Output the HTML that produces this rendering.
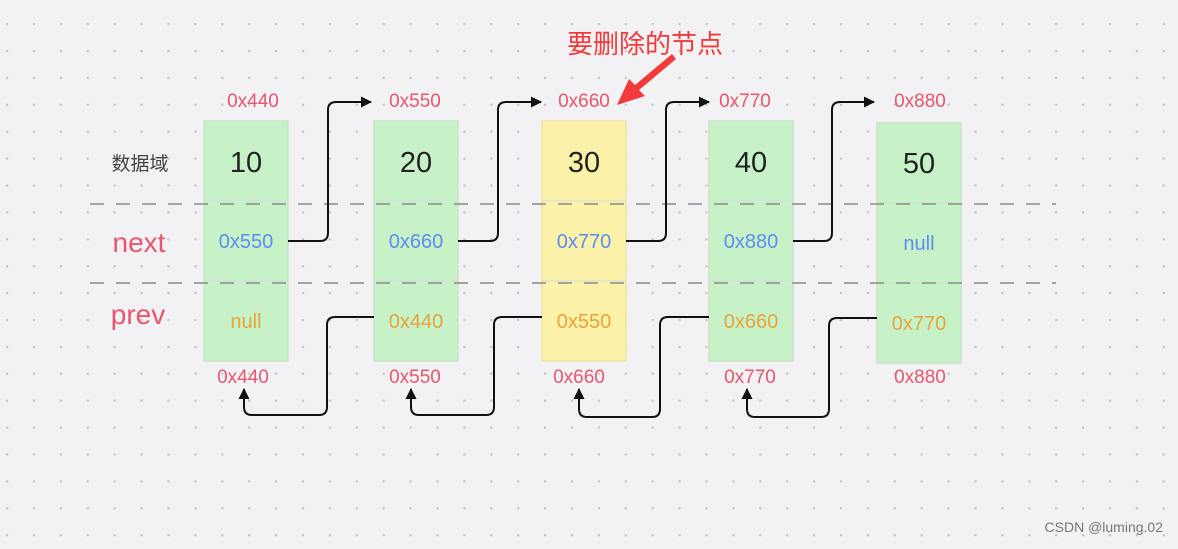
<!DOCTYPE html>
<html><head><meta charset="utf-8"><style>
body{margin:0;width:1178px;height:544px;overflow:hidden;background:#f2f2f4;}
</style></head><body>
<svg width="1178" height="544" xmlns="http://www.w3.org/2000/svg" font-family="Liberation Sans, Noto Sans CJK SC, sans-serif">
<defs>
<pattern id="d" x="6" y="23" width="26.9" height="26.9" patternUnits="userSpaceOnUse"><rect x="0" y="0" width="2.2" height="2.2" fill="#c4c4cc"/></pattern>
<marker id="a" markerWidth="11" markerHeight="11" refX="10" refY="5.5" orient="auto" markerUnits="userSpaceOnUse"><path d="M0,0 L11,5.5 L0,11 z" fill="#111"/></marker>
</defs>
<rect width="1178" height="544" fill="url(#d)"/>
<g stroke="#c8e4c8" stroke-width="1.5">
<rect x="204" y="121" width="84" height="240" fill="#c7f2c8"/>
<rect x="374" y="121" width="84" height="240" fill="#c7f2c8"/>
<rect x="542" y="121" width="84" height="240" fill="#fbf1a8" stroke="#ece4a8"/>
<rect x="709" y="121" width="84" height="240" fill="#c7f2c8"/>
<rect x="877" y="123" width="84" height="240" fill="#c7f2c8"/>
</g>
<g stroke="#d6dcd6" stroke-width="1">
<line x1="204" y1="201" x2="288" y2="201"/><line x1="204" y1="281" x2="288" y2="281"/>
<line x1="374" y1="201" x2="458" y2="201"/><line x1="374" y1="281" x2="458" y2="281"/>
<line x1="542" y1="201" x2="626" y2="201"/><line x1="542" y1="281" x2="626" y2="281"/>
<line x1="709" y1="201" x2="793" y2="201"/><line x1="709" y1="281" x2="793" y2="281"/>
<line x1="877" y1="203" x2="961" y2="203"/><line x1="877" y1="283" x2="961" y2="283"/>
</g>
<g stroke="#8a8a8a" stroke-width="1.5" stroke-dasharray="14,12">
<line x1="90" y1="204" x2="1056" y2="204"/>
<line x1="90" y1="283" x2="1056" y2="283"/>
</g>
<g fill="none" stroke="#111" stroke-width="2">
<path d="M288,241 H320 Q328,241 328,233 V110 Q328,102 336,102 H371" marker-end="url(#a)"/>
<path d="M458,241 H490 Q498,241 498,233 V110 Q498,102 506,102 H541" marker-end="url(#a)"/>
<path d="M626,241 H658 Q666,241 666,233 V110 Q666,102 674,102 H709" marker-end="url(#a)"/>
<path d="M793,241 H824 Q832,241 832,233 V110 Q832,102 840,102 H874" marker-end="url(#a)"/>
<path d="M374,317 H335 Q327,317 327,325 V407 Q327,415 319,415 H252 Q244,415 244,407 V389" marker-end="url(#a)"/>
<path d="M542,317 H502 Q494,317 494,325 V407 Q494,415 486,415 H419 Q411,415 411,407 V389" marker-end="url(#a)"/>
<path d="M709,317 H668 Q660,317 660,325 V409 Q660,417 652,417 H587 Q579,417 579,409 V389" marker-end="url(#a)"/>
<path d="M877,318 H837 Q829,318 829,326 V409 Q829,417 821,417 H755 Q747,417 747,409 V389" marker-end="url(#a)"/>
</g>
<g font-size="19" fill="#e8566d" text-anchor="middle">
<text x="253" y="107">0x440</text><text x="415" y="107">0x550</text><text x="584" y="107">0x660</text><text x="745" y="107">0x770</text><text x="920" y="107">0x880</text>
<text x="243" y="383">0x440</text><text x="415" y="383">0x550</text><text x="579" y="383">0x660</text><text x="750" y="383">0x770</text><text x="920" y="383">0x880</text>
</g>
<g font-size="29" fill="#222" text-anchor="middle">
<text x="246" y="172">10</text><text x="416" y="172">20</text><text x="584" y="172">30</text><text x="751" y="172">40</text><text x="919" y="173">50</text>
</g>
<g font-size="20" fill="#5b8ef0" text-anchor="middle">
<text x="246" y="248">0x550</text><text x="416" y="248">0x660</text><text x="584" y="248">0x770</text><text x="751" y="248">0x880</text><text x="919" y="250">null</text>
</g>
<g font-size="20" fill="#e8a43a" text-anchor="middle">
<text x="246" y="328">null</text><text x="416" y="328">0x440</text><text x="584" y="328">0x550</text><text x="751" y="328">0x660</text><text x="919" y="330">0x770</text>
</g>
<text x="140" y="170" font-size="19" fill="#444" text-anchor="middle">数据域</text>
<text x="139" y="252" font-size="28" fill="#e8566d" text-anchor="middle">next</text>
<text x="138" y="324" font-size="28" fill="#e8566d" text-anchor="middle">prev</text>
<text x="645" y="53" font-size="26" fill="#f23a3a" text-anchor="middle">要删除的节点</text>
<path d="M676,59 L639,90 L645,96 L617,105 L629,79 L635,85 L672,54 z" fill="#f23a3a"/>
<text x="1163" y="532" font-size="14" fill="#777" text-anchor="end">CSDN @luming.02</text>
</svg>
</body></html>
